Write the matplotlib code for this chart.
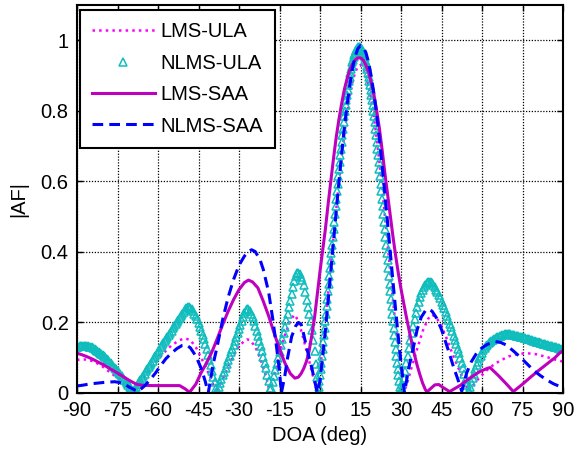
import matplotlib

matplotlib.use("Agg")
import matplotlib.pyplot as plt
import numpy as np

plt.rcParams["font.family"] = ["Liberation Sans", "DejaVu Sans"]
plt.rcParams["axes.unicode_minus"] = False

# ---- LMS-ULA (magenta dotted) ----
lms_ula_x = ([-90, -87, -84, -81, -78, -75, -72, -69.5, -67, -64,
              -61, -58, -55, -52, -50, -48, -46, -44, -42, -40,
              -38.3, -36, -34, -32, -30, -28, -27, -26, -24, -22,
              -20, -18.5, -17, -15, -13, -11, -9.5, -8, -6, -4,
              -2, -1]
             + list(range(0, 31))
             + [30.8, 32, 34, 36, 38, 40, 41.5, 43, 45, 47, 49, 51, 53, 55,
                57, 59.3, 62, 64.3, 67, 70, 73, 76.5, 80, 84, 87, 90])
lms_ula_y = ([0.094, 0.095, 0.090, 0.078, 0.060, 0.043, 0.025, 0.000, 0.025, 0.058,
              0.087, 0.113, 0.135, 0.150, 0.155, 0.150, 0.130, 0.100, 0.068, 0.033,
              0.000, 0.040, 0.075, 0.107, 0.132, 0.148, 0.152, 0.150, 0.132, 0.095,
              0.048, 0.000, 0.045, 0.110, 0.165, 0.205, 0.222, 0.205, 0.150, 0.090,
              0.030, 0.000]
             + [0.062, 0.136, 0.204, 0.282, 0.361, 0.441, 0.519, 0.595, 0.667, 0.734,
                0.791, 0.841, 0.880, 0.909, 0.925, 0.930, 0.923, 0.904, 0.872, 0.831,
                0.780, 0.721, 0.653, 0.581, 0.504, 0.424, 0.345, 0.266, 0.189, 0.117,
                0.048]
             + [0.000, 0.020, 0.075, 0.125, 0.175, 0.210, 0.222, 0.215, 0.190, 0.153,
                0.112, 0.075, 0.040, 0.005, 0.025, 0.046, 0.066, 0.080, 0.093, 0.104,
                0.110, 0.113, 0.110, 0.102, 0.095, 0.089])

# ---- NLMS-ULA (cyan triangles): 0.5 deg on side lobes, 0.25 deg on main lobe ----
nlms_ula_x = np.concatenate([np.arange(-90, -0.9, 0.5),
                             np.arange(-0.75, 29.8, 0.25),
                             np.arange(30, 90.1, 0.5)])
nlms_ula_y = ([0.130, 0.131, 0.132, 0.133, 0.133, 0.133, 0.133, 0.133, 0.132, 0.131,
               0.130, 0.129, 0.127, 0.125, 0.122, 0.120, 0.117, 0.114, 0.111, 0.108,
               0.104, 0.101, 0.097, 0.093, 0.089, 0.085, 0.080, 0.076, 0.071, 0.067,
               0.062, 0.058, 0.053, 0.048, 0.043, 0.038, 0.033, 0.028, 0.022, 0.016,
               0.010, 0.002, 0.006, 0.012, 0.018, 0.025, 0.031, 0.037, 0.043, 0.049,
               0.055, 0.062, 0.068, 0.074, 0.080, 0.086, 0.092, 0.098, 0.104, 0.111,
               0.117, 0.123, 0.129, 0.135, 0.141, 0.147, 0.153, 0.159, 0.165, 0.171,
               0.177, 0.183, 0.189, 0.195, 0.201, 0.207, 0.213, 0.219, 0.225, 0.231,
               0.236, 0.241, 0.245, 0.244, 0.241, 0.237, 0.232, 0.225, 0.218, 0.209,
               0.199, 0.188, 0.177, 0.165, 0.152, 0.138, 0.124, 0.109, 0.094, 0.078,
               0.062, 0.046, 0.030, 0.014, 0.005, 0.017, 0.028, 0.039, 0.050, 0.060,
               0.071, 0.082, 0.093, 0.104, 0.115, 0.126, 0.137, 0.148, 0.159, 0.170,
               0.182, 0.194, 0.205, 0.216, 0.226, 0.233, 0.238, 0.237, 0.232, 0.224,
               0.215, 0.203, 0.190, 0.176, 0.162, 0.148, 0.133, 0.118, 0.102, 0.086,
               0.070, 0.052, 0.034, 0.010, 0.014, 0.031, 0.048, 0.065, 0.082, 0.100,
               0.117, 0.135, 0.152, 0.170, 0.188, 0.207, 0.225, 0.244, 0.262, 0.281,
               0.300, 0.318, 0.333, 0.339, 0.340, 0.336, 0.330, 0.319, 0.305, 0.286,
               0.265, 0.245, 0.225, 0.203, 0.180, 0.151, 0.120, 0.083, 0.045]
              + [0.000, 0.016, 0.033, 0.050, 0.068, 0.086, 0.105, 0.124, 0.144, 0.164,
                 0.184, 0.204, 0.225, 0.246, 0.267, 0.289, 0.310, 0.332, 0.354, 0.376,
                 0.398, 0.420, 0.442, 0.464, 0.486, 0.508, 0.529, 0.551, 0.572, 0.593,
                 0.614, 0.634, 0.654, 0.674, 0.693, 0.712, 0.731, 0.749, 0.767, 0.784,
                 0.800, 0.816, 0.831, 0.846, 0.859, 0.873, 0.885, 0.897, 0.908, 0.919,
                 0.928, 0.937, 0.945, 0.953, 0.959, 0.965, 0.969, 0.973, 0.976, 0.978,
                 0.980,
                 0.980,
                 0.980, 0.978, 0.976, 0.973, 0.969, 0.965, 0.959, 0.953, 0.945, 0.937,
                 0.928, 0.919, 0.908, 0.897, 0.885, 0.873, 0.859, 0.846, 0.831, 0.816,
                 0.800, 0.784, 0.767, 0.749, 0.731, 0.712, 0.693, 0.674, 0.654, 0.634,
                 0.614, 0.593, 0.572, 0.551, 0.529, 0.508, 0.486, 0.464, 0.442, 0.420,
                 0.398, 0.376, 0.354, 0.332, 0.310, 0.289, 0.267, 0.246, 0.225, 0.204,
                 0.184, 0.164, 0.144, 0.124, 0.105, 0.086, 0.068, 0.050, 0.033, 0.016,
                 0.000]
              + [0.008, 0.025, 0.042, 0.063, 0.084, 0.106, 0.127, 0.149, 0.170, 0.190,
                 0.210, 0.228, 0.245, 0.259, 0.272, 0.283, 0.292, 0.300, 0.306, 0.311,
                 0.314, 0.316, 0.315, 0.311, 0.306, 0.300, 0.293, 0.285, 0.277, 0.268,
                 0.259, 0.250, 0.240, 0.230, 0.219, 0.208, 0.197, 0.186, 0.175, 0.163,
                 0.150, 0.138, 0.125, 0.112, 0.098, 0.084, 0.070, 0.055, 0.040, 0.024,
                 0.005, 0.017, 0.030, 0.043, 0.055, 0.067, 0.078, 0.088, 0.098, 0.106,
                 0.114, 0.121, 0.127, 0.132, 0.137, 0.141, 0.145, 0.148, 0.151, 0.154,
                 0.156, 0.158, 0.160, 0.162, 0.163, 0.164, 0.165, 0.166, 0.166, 0.166,
                 0.166, 0.166, 0.165, 0.165, 0.164, 0.163, 0.162, 0.161, 0.160, 0.159,
                 0.158, 0.157, 0.155, 0.154, 0.153, 0.152, 0.150, 0.149, 0.148, 0.147,
                 0.146, 0.145, 0.144, 0.143, 0.141, 0.140, 0.139, 0.138, 0.136, 0.135,
                 0.134, 0.133, 0.132, 0.131, 0.130, 0.129, 0.128, 0.127, 0.126, 0.125,
                 0.124])

# ---- LMS-SAA (purple solid) ----
lms_saa_x = ([-90, -88, -86, -84, -82, -80, -78, -76, -74, -72,
              -70, -68, -66, -62, -58, -54, -52, -50, -48.3, -46,
              -44, -42, -40, -38, -36, -34, -32, -30, -28, -26.5,
              -25, -23, -21, -19, -17, -15, -13, -11, -9.3]
             + list(range(-8, 40))
             + [39.6, 42.5, 44, 45.5, 48, 52, 55.5, 59, 62, 63,
                66, 69, 71.6, 75, 78, 81, 84, 87, 89, 90])
lms_saa_y = ([0.113, 0.108, 0.102, 0.095, 0.087, 0.079, 0.070, 0.061, 0.052, 0.042,
              0.033, 0.025, 0.022, 0.021, 0.021, 0.021, 0.021, 0.012, 0.002, 0.025,
              0.058, 0.085, 0.117, 0.155, 0.195, 0.232, 0.265, 0.293, 0.313, 0.320,
              0.315, 0.298, 0.260, 0.218, 0.170, 0.125, 0.085, 0.055, 0.042]
             + [0.045, 0.055, 0.070, 0.090, 0.120, 0.165, 0.215, 0.280,
                0.345, 0.405, 0.465, 0.535, 0.600, 0.665, 0.725, 0.775, 0.820, 0.860,
                0.890, 0.915, 0.932, 0.944, 0.950, 0.950, 0.944, 0.930, 0.910, 0.880,
                0.845, 0.800, 0.750, 0.690, 0.625, 0.565, 0.505, 0.445, 0.390, 0.340,
                0.295, 0.255, 0.215, 0.178, 0.142, 0.108, 0.078, 0.052, 0.028, 0.010]
             + [0.003, 0.023, 0.024, 0.016, 0.004, 0.022, 0.042, 0.060, 0.070, 0.072,
                0.050, 0.026, 0.004, 0.025, 0.045, 0.064, 0.082, 0.100, 0.115, 0.120])

# ---- NLMS-SAA (blue dashed) ----
nlms_saa_x = ([-90, -88, -85, -80, -76, -73, -70.5, -67.4, -65, -63,
               -61, -59, -57, -55, -53, -51, -49.5, -48, -46, -44,
               -42.5, -41.4, -39.5, -38, -36, -34, -32, -30, -28, -26.5,
               -25.3, -24, -22.2, -21, -19, -17.5, -16, -15, -14.3, -13,
               -12, -10.5, -9, -8, -7, -6, -5, -4, -3, -2,
               -1]
              + list(range(0, 32))
              + [31.3, 32.7, 34.6, 36, 37.5, 39, 40.1, 41.5, 43.2, 45,
                 46.3, 48, 49.4, 51, 52.5, 54.3, 56, 58, 60, 62,
                 65, 67, 69, 71.5, 74, 76.5, 79, 81.5, 84, 86.5,
                 89, 90])
nlms_saa_y = ([0.020, 0.022, 0.026, 0.030, 0.032, 0.028, 0.016, 0.004, 0.020, 0.037,
               0.056, 0.078, 0.098, 0.113, 0.126, 0.135, 0.136, 0.128, 0.105, 0.070,
               0.033, 0.000, 0.084, 0.135, 0.210, 0.272, 0.322, 0.362, 0.388, 0.402,
               0.406, 0.401, 0.378, 0.350, 0.285, 0.210, 0.125, 0.060, 0.000, 0.050,
               0.100, 0.160, 0.190, 0.200, 0.195, 0.165, 0.130, 0.100, 0.070, 0.035,
               0.000]
              + [0.035, 0.103, 0.178, 0.260, 0.345, 0.430, 0.515, 0.598, 0.678, 0.751,
                 0.815, 0.871, 0.919, 0.953, 0.976, 0.985, 0.981, 0.965, 0.937, 0.897,
                 0.847, 0.788, 0.721, 0.647, 0.566, 0.486, 0.402, 0.318, 0.237, 0.159,
                 0.086, 0.019]
              + [0.000, 0.065, 0.130, 0.180, 0.215, 0.233, 0.238, 0.232, 0.212, 0.180,
                 0.150, 0.110, 0.075, 0.040, 0.005, 0.056, 0.088, 0.113, 0.128, 0.138,
                 0.146, 0.143, 0.136, 0.120, 0.103, 0.084, 0.065, 0.050, 0.037, 0.026,
                 0.018, 0.016])

x_ticks = list(range(-90, 91, 15))
y_ticks = [0, 0.2, 0.4, 0.6, 0.8, 1]
y_tick_labels = ["0", "0.2", "0.4", "0.6", "0.8", "1"]

FS = 14.5
W, H = 574, 459
fig = plt.figure(figsize=(W / 100, H / 100), dpi=100)
ax = fig.add_axes([77 / W, 66 / H, 486 / W, 388 / H])

ax.plot(lms_ula_x, lms_ula_y, color="#FF00FF", ls=":", lw=1.8, label="LMS-ULA")
ax.plot(nlms_ula_x, nlms_ula_y, ls="none", marker="^", ms=6, mfc="none",
        mec="#10BDBD", mew=1.1, label="NLMS-ULA")
ax.plot(lms_saa_x, lms_saa_y, color="#BF00BF", lw=2.2, label="LMS-SAA")
ax.plot(nlms_saa_x, nlms_saa_y, color="#0000FF", ls="--", lw=2.2,
        dashes=(3.5, 2.0), label="NLMS-SAA")

ax.set_xlim(-90, 90)
ax.set_ylim(0, 1.1)
ax.set_xticks(x_ticks)
ax.set_yticks(y_ticks)
ax.set_yticklabels(y_tick_labels)
ax.grid(True, color="k", ls=(0, (1, 1.3)), lw=0.9)
ax.set_axisbelow(True)
ax.tick_params(direction="in", top=True, right=True, length=4, width=1,
               labelsize=FS, pad=6)
for s in ax.spines.values():
    s.set_linewidth(1.5)

ax.set_xlabel("DOA (deg)", fontsize=FS, labelpad=4)
ax.set_ylabel("|AF|", fontsize=FS, labelpad=9)

leg = ax.legend(loc="upper left", bbox_to_anchor=(80 / W, 1 - 10 / H),
                bbox_transform=fig.transFigure, borderaxespad=0, fancybox=False,
                edgecolor="k", framealpha=1, numpoints=1, handlelength=3.1,
                handletextpad=0.3, labelspacing=0.62, borderpad=0.6, fontsize=FS)
leg.get_frame().set_linewidth(1.5)

fig.savefig("out.png", dpi=100)
